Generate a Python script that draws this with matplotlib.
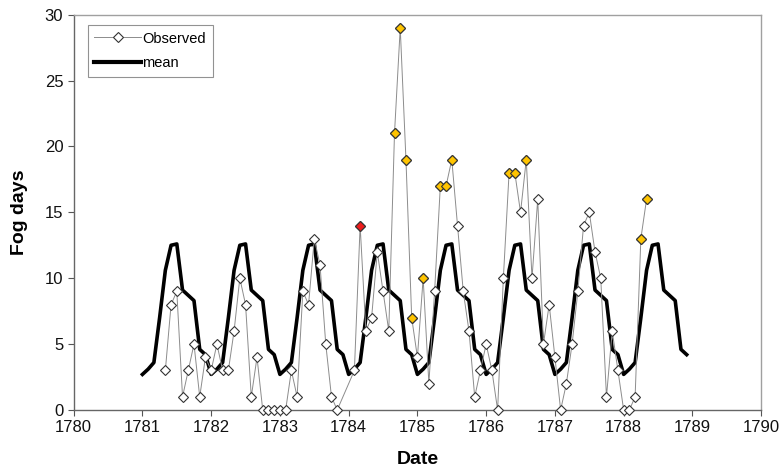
import matplotlib
matplotlib.use("Agg")
import matplotlib.pyplot as plt
from matplotlib.lines import Line2D
import numpy as np

plt.rcParams['font.family'] = ['Liberation Sans', 'DejaVu Sans']

# monthly fog days, Jan..Dec, None = no record
obs_years = [1781, 1782, 1783, 1784, 1785, 1786, 1787, 1788]
obs_1781 = [None, None, None, None, 3, 8, 9, 1, 3, 5, 1, 4]
obs_1782 = [3, 5, 3, 3, 6, 10, 8, 1, 4, 0, 0, 0]
obs_1783 = [0, 0, 3, 1, 9, 8, 13, 11, 5, 1, 0, None]
obs_1784 = [None, 3, 14, 6, 7, 12, 9, 6, 21, 29, 19, 7]
obs_1785 = [4, 10, 2, 9, 17, 17, 19, 14, 9, 6, 1, 3]
obs_1786 = [5, 3, 0, 10, 18, 18, 15, 19, 10, 16, 5, 8]
obs_1787 = [4, 0, 2, 5, 9, 14, 15, 12, 10, 1, 6, 3]
obs_1788 = [0, 0, 1, 13, 16, None, None, None, None, None, None, None]
obs_all = [obs_1781, obs_1782, obs_1783, obs_1784, obs_1785, obs_1786, obs_1787, obs_1788]

# months flagged in the original chart (year, month)
red_months = [(1784, 3)]
yellow_months = [(1784, 9), (1784, 10), (1784, 11), (1784, 12), (1785, 2),
                 (1785, 5), (1785, 6), (1785, 7), (1786, 5), (1786, 6),
                 (1786, 8), (1788, 4), (1788, 5)]

# long-term monthly mean, Jan..Dec
mean_monthly = [2.7, 3.1, 3.6, 7.0, 10.6, 12.5, 12.6, 9.1, 8.7, 8.3, 4.6, 4.2]
mean_years = [1781, 1782, 1783, 1784, 1785, 1786, 1787, 1788]

# build date / value arrays
ox, oy = [], []
for yr, vals in zip(obs_years, obs_all):
    for m, v in enumerate(vals):
        if v is not None:
            ox.append(yr + m / 12)
            oy.append(v)

mx, my = [], []
for yr in mean_years:
    for m, v in enumerate(mean_monthly):
        mx.append(yr + m / 12)
        my.append(v)

def pick(months):
    xs, ys = [], []
    for yr, mo in months:
        v = obs_all[obs_years.index(yr)][mo - 1]
        xs.append(yr + (mo - 1) / 12)
        ys.append(v)
    return xs, ys

fig = plt.figure(figsize=(7.83, 4.72), dpi=100)
ax = fig.add_axes([0.0941, 0.1314, 0.878, 0.8375])

ax.plot(mx, my, color='black', linewidth=2.6, zorder=2)
ax.plot(ox, oy, color='#8c8c8c', linewidth=0.7, marker='D', markersize=4.7,
        markerfacecolor='white', markeredgecolor='#333333', markeredgewidth=0.8,
        zorder=3, clip_on=False)

yx, yy = pick(yellow_months)
ax.plot(yx, yy, linestyle='none', marker='D', markersize=4.7,
        markerfacecolor='#FFC400', markeredgecolor='#333333', markeredgewidth=0.8, zorder=4)
rx, ry = pick(red_months)
ax.plot(rx, ry, linestyle='none', marker='D', markersize=4.7,
        markerfacecolor='#EE1C1C', markeredgecolor='#333333', markeredgewidth=0.8, zorder=4)

ax.set_xlim(1780, 1790)
ax.set_ylim(0, 30)
ax.set_xticks(np.arange(1780, 1791, 1))
ax.set_yticks(np.arange(0, 31, 5))
ax.tick_params(direction='out', length=4, width=0.8, labelsize=12,
               color='#555555', labelcolor='#111111')

for s in ['left', 'bottom']:
    ax.spines[s].set_color('#666666')
for s in ['top', 'right']:
    ax.spines[s].set_color('#a0a0a0')
for s in ax.spines:
    ax.spines[s].set_linewidth(1.0)

ax.set_xlabel('Date', fontsize=14, fontweight='bold')
ax.set_ylabel('Fog days', fontsize=14, fontweight='bold')
ax.xaxis.set_label_coords(0.5, -0.105)
ax.yaxis.set_label_coords(-0.066, 0.5)

handles = [
    Line2D([], [], color='#8c8c8c', linewidth=0.7, marker='D', markersize=4.7,
           markerfacecolor='white', markeredgecolor='#333333', markeredgewidth=0.8),
    Line2D([], [], color='black', linewidth=3.0),
]
leg = ax.legend(handles, ['Observed', 'mean'], loc='upper left',
                bbox_to_anchor=(0.0204, 0.974), borderaxespad=0, fontsize=10.5,
                frameon=True, fancybox=False, handlelength=3.2, handletextpad=0.1,
                borderpad=0.45, labelspacing=0.75)
leg.get_frame().set_edgecolor('#777777')
leg.get_frame().set_linewidth(0.8)

plt.savefig('out.png', dpi=100)
